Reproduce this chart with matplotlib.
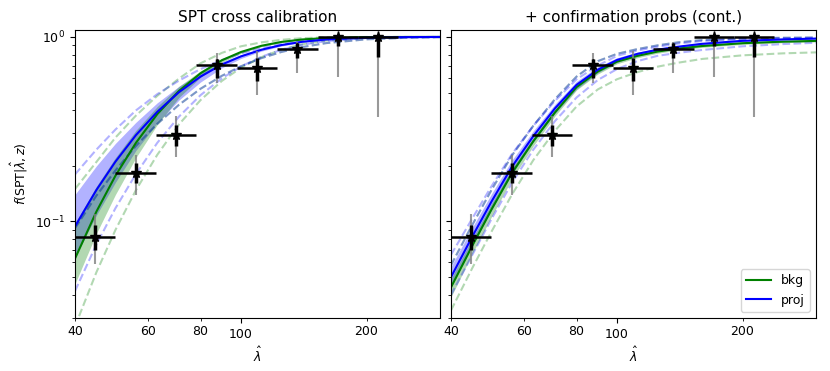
import numpy as np
import matplotlib
matplotlib.use('Agg')
import matplotlib.pyplot as plt
from matplotlib.ticker import FixedLocator, FormatStrFormatter

lam = [40, 45, 50, 56, 63, 71, 80, 90, 100, 112, 125, 140, 160, 200, 250, 300]

# --- left panel: SPT cross calibration
proj_L = [.094, .148, .211, .294, .393, .502, .610, .709, .785, .853, .904, .941, .969, .991, .998, 1.0]
proj_L_hi = [.14, .20, .265, .345, .44, .54, .64, .73, .80, .865, .912, .947, .972, .992, .998, 1.0]
proj_L_lo = [.064, .108, .163, .243, .342, .455, .57, .68, .765, .838, .893, .934, .965, .99, .998, 1.0]
bkg_L = [.063, .113, .177, .267, .382, .51, .636, .748, .829, .896, .94, .969, .987, .998, 1.0, 1.0]
bkg_L_hi = [.098, .155, .222, .312, .42, .54, .655, .76, .838, .902, .944, .972, .989, .998, 1.0, 1.0]
bkg_L_lo = [.046, .086, .14, .222, .335, .47, .605, .728, .815, .886, .934, .966, .985, .997, 1.0, 1.0]

dash_L1 = [.18, .245, .315, .40, .49, .58, .67, .75, .815, .87, .915, .95, .975, .994, .999, 1.0]
dash_L2 = [.15, .21, .285, .375, .48, .595, .72, .82, .89, .935, .965, .985, .995, 1.0, 1.0, 1.0]
dash_L4 = [.092, .138, .189, .257, .338, .429, .524, .616, .694, .768, .829, .881, .926, .971, .99, .9966]
dash_L5 = [.042, .075, .118, .181, .267, .370, .484, .597, .692, .781, .852, .907, .950, .9856, .9968, .999]
dash_L6 = [.027, .053, .090, .148, .230, .336, .455, .578, .681, .778, .854, .912, .956, .989, .998, 1.0]

# --- right panel: + confirmation probs (cont.)
proj_R = [.050, .083, .128, .198, .29, .41, .55, .665, .75, .81, .853, .885, .918, .953, .97, .98]
proj_R_hi = [.057, .093, .141, .215, .31, .432, .575, .69, .772, .828, .868, .898, .93, .962, .977, .986]
proj_R_lo = [.044, .074, .115, .181, .27, .385, .522, .64, .728, .79, .836, .87, .905, .943, .962, .973]
bkg_R = [.044, .074, .116, .183, .272, .39, .535, .65, .735, .79, .833, .865, .893, .925, .943, .952]
bkg_R_hi = [.049, .081, .125, .194, .285, .405, .552, .668, .752, .807, .849, .88, .907, .937, .954, .962]
bkg_R_lo = [.039, .067, .106, .17, .257, .373, .516, .63, .716, .772, .816, .849, .878, .912, .931, .94]

dash_R1 = [.066, .104, .155, .232, .33, .45, .59, .70, .79, .845, .885, .92, .95, .975, .985, .99]
dash_R2 = [.058, .096, .148, .228, .33, .46, .61, .74, .81, .86, .90, .935, .962, .982, .99, .993]
dash_R3 = [.040, .066, .103, .162, .245, .35, .47, .585, .67, .74, .79, .82, .85, .89, .915, .93]
dash_R4 = [.033, .056, .088, .14, .215, .31, .42, .52, .59, .645, .69, .725, .76, .795, .815, .825]

# measured points (same in both panels)
bin_edges = [40, 50, 62.5, 78.1, 97.7, 122.1, 152.6, 190.7, 238.4]
bin_centers = [44.7, 55.9, 69.9, 87.4, 109.2, 136.5, 170.6, 213.3]
frac = [0.082, 0.182, 0.295, 0.705, 0.675, 0.865, 1.0, 1.0]
frac_lo = [0.070, 0.161, 0.255, 0.600, 0.580, 0.765, 0.894, 0.779]
frac_hi = [0.096, 0.207, 0.335, 0.760, 0.772, 0.931, 1.0, 1.0]
frac_lo2 = [0.059, 0.139, 0.223, 0.565, 0.482, 0.634, 0.606, 0.367]
frac_hi2 = [0.110, 0.229, 0.372, 0.820, 0.839, 0.940, 1.0, 1.0]

panels = [
    dict(title='SPT cross calibration',
         proj=proj_L, proj_band=(proj_L_lo, proj_L_hi),
         bkg=bkg_L, bkg_band=(bkg_L_lo, bkg_L_hi),
         dash_g=[dash_L2, dash_L6, dash_L4], dash_b=[dash_L1, dash_L5, dash_L4]),
    dict(title='+ confirmation probs (cont.)',
         proj=proj_R, proj_band=(proj_R_lo, proj_R_hi),
         bkg=bkg_R, bkg_band=(bkg_R_lo, bkg_R_hi),
         dash_g=[dash_R2, dash_R4], dash_b=[dash_R1, dash_R2, dash_R3]),
]

fig = plt.figure(figsize=(8.3, 3.71), dpi=100)
ax1 = fig.add_axes([0.0904, 0.143, 0.4397, 0.776])
ax2 = fig.add_axes([0.5434, 0.143, 0.4397, 0.776], sharey=ax1)

xc = np.array(bin_centers)
edges = np.array(bin_edges)
y = np.array(frac)
xerr = [xc - edges[:-1], edges[1:] - xc]
yerr = [y - np.array(frac_lo), np.array(frac_hi) - y]
yerr2 = [y - np.array(frac_lo2), np.array(frac_hi2) - y]

for ax, p in zip([ax1, ax2], panels):
    ax.fill_between(lam, *p['proj_band'], color='b', alpha=0.3, lw=0)
    ax.fill_between(lam, *p['bkg_band'], color='g', alpha=0.3, lw=0)
    for d in p['dash_g']:
        ax.plot(lam, d, '--', color='g', alpha=0.3, lw=1.5)
    for d in p['dash_b']:
        ax.plot(lam, d, '--', color='b', alpha=0.3, lw=1.5)
    ax.plot(lam, p['bkg'], color='g', lw=1.5, label='bkg')
    ax.plot(lam, p['proj'], color='b', lw=1.5, label='proj')

    ax.errorbar(xc, y, yerr=yerr2, fmt='none', ecolor='gray', elinewidth=1.5, alpha=0.8)
    ax.errorbar(xc, y, xerr=xerr, fmt='none', ecolor='k', elinewidth=1.8)
    ax.errorbar(xc, y, yerr=yerr, fmt='k*', ms=8, elinewidth=2.5)

    ax.set_xscale('log')
    ax.set_yscale('log')
    ax.set_xlim(40, 300)
    ax.set_ylim(0.03, 1.09)
    ax.xaxis.set_major_locator(FixedLocator([100]))
    ax.xaxis.set_major_formatter(FormatStrFormatter('%d'))
    ax.xaxis.set_minor_locator(FixedLocator([40, 60, 80, 200]))
    ax.xaxis.set_minor_formatter(FormatStrFormatter('%d'))
    ax.tick_params(labelsize=9, which='both')
    ax.set_xlabel(r'$\hat{\lambda}$', fontsize=9)
    ax.set_title(p['title'], fontsize=11)

ax1.set_ylabel(r'$f(\mathrm{SPT}|\hat{\lambda},z)$', fontsize=9)
plt.setp(ax2.get_yticklabels(), visible=False)
ax2.legend(loc='lower right', fontsize=9)

fig.savefig('out.png', dpi=100)
